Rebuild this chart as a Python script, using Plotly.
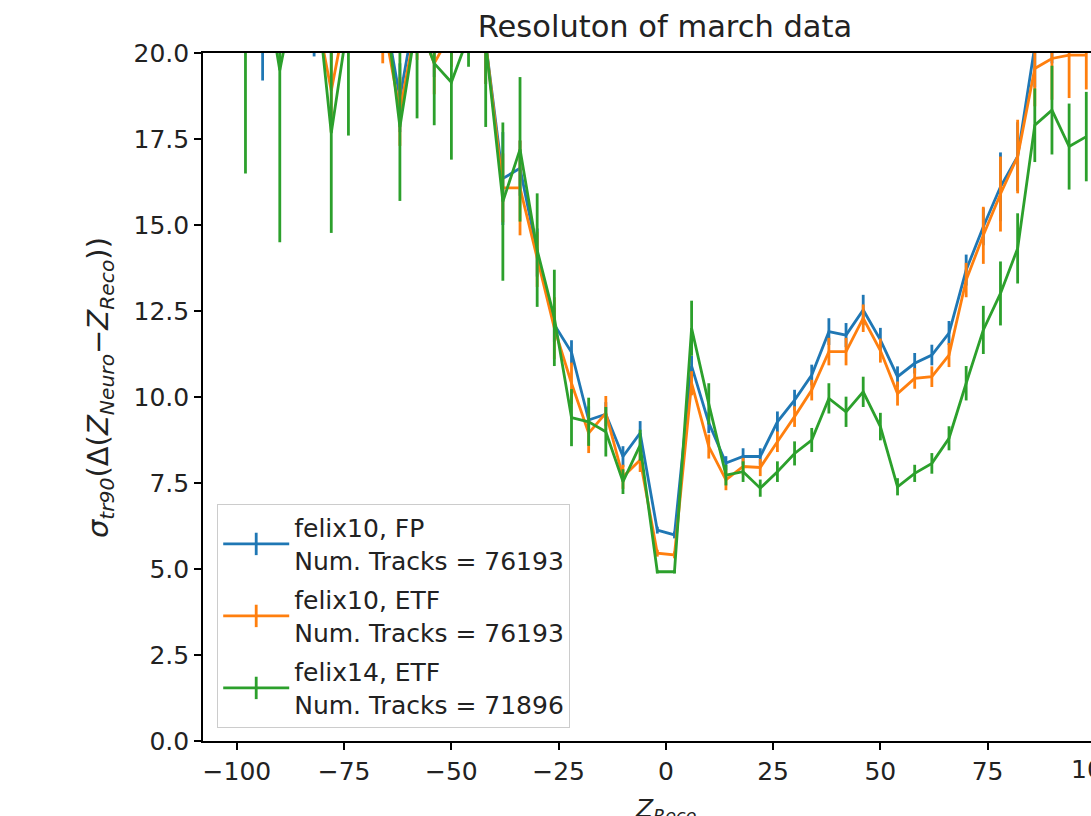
import plotly.graph_objects as go

# ---- data ----
z_reco = [-98, -94, -90, -86, -82, -78, -74, -70, -66, -62,
          -58, -54, -50, -46, -42, -38, -34, -30, -26, -22,
          -18, -14, -10, -6, -2, 2, 6, 10, 14, 18,
          22, 26, 30, 34, 38, 42, 46, 50, 54, 58,
          62, 66, 70, 74, 78, 82, 86, 90, 94, 98]

fp10_sigma = [22.0, 21.0, 22.5, 23.0, 21.2, 20.8, 22.0, 23.0, 21.5, 18.7,
              21.5, 20.3, 20.8, 21.0, 20.3, 16.35, 16.65, 14.2, 12.1, 11.3,
              9.33, 9.5, 8.27, 8.95, 6.13, 5.99, 10.9, 9.25, 8.08, 8.27,
              8.27, 9.28, 9.91, 10.64, 11.9, 11.8, 12.53, 11.66, 10.59, 10.98,
              11.22, 11.86, 13.69, 14.95, 16.11, 16.99, 20.2, 21.0, 21.5, 21.5]
fp10_err = [1.5, 1.8, 2.0, 1.5, 1.3, 1.0, 1.5, 1.5, 1.2, 1.0,
            1.2, 1.0, 1.0, 1.0, 1.2, 1.35, 0.8, 0.7, 0.5, 0.35,
            0.4, 0.35, 0.3, 0.35, 0.1, 0.1, 0.3, 0.3, 0.2, 0.24,
            0.24, 0.3, 0.3, 0.3, 0.39, 0.35, 0.44, 0.35, 0.3, 0.3,
            0.3, 0.35, 0.45, 0.54, 1.0, 1.0, 1.2, 1.3, 1.3, 1.3]

etf10_sigma = [22.0, 22.5, 22.0, 22.5, 21.5, 18.9, 21.5, 22.0, 21.0, 18.3,
               21.0, 19.7, 20.6, 21.0, 20.3, 16.08, 16.08, 14.0, 12.0, 10.4,
               8.95, 9.53, 7.68, 8.17, 5.46, 5.41, 10.4, 8.56, 7.59, 7.98,
               7.95, 8.7, 9.43, 10.2, 11.32, 11.32, 12.29, 11.35, 10.1, 10.54,
               10.59, 11.22, 13.4, 14.7, 15.9, 16.99, 19.55, 19.84, 19.94, 19.94]
etf10_err = [1.5, 2.0, 1.8, 1.5, 1.2, 1.2, 1.5, 1.5, 1.3, 1.0,
             1.2, 0.9, 1.0, 1.0, 1.2, 1.0, 1.38, 0.8, 0.9, 0.6,
             0.58, 0.5, 0.35, 0.35, 0.1, 0.1, 0.35, 0.35, 0.3, 0.25,
             0.25, 0.3, 0.3, 0.3, 0.4, 0.4, 0.4, 0.35, 0.35, 0.3,
             0.3, 0.35, 0.5, 0.83, 1.09, 1.07, 1.1, 1.2, 1.25, 1.0]

etf14_sigma = [21.0, 22.5, 19.5, 22.0, 22.5, 17.67, 21.0, 22.0, 22.0, 17.85,
               21.0, 19.7, 19.15, 20.5, 20.3, 15.68, 17.2, 14.27, 12.3, 9.4,
               9.28, 8.99, 7.54, 8.6, 4.92, 4.92, 12.0, 9.8, 7.73, 7.83,
               7.35, 7.83, 8.36, 8.75, 9.96, 9.57, 10.15, 9.14, 7.39, 7.78,
               8.07, 8.8, 10.4, 11.95, 13.01, 14.32, 17.9, 18.34, 17.28, 17.57]
etf14_err = [4.5, 2.0, 5.0, 2.0, 2.0, 2.9, 3.4, 2.0, 2.0, 2.15,
             2.9, 1.8, 2.25, 0.9, 2.45, 2.3, 2.1, 1.65, 1.4, 0.83,
             0.7, 0.72, 0.36, 0.45, 0.05, 0.05, 0.8, 0.6, 0.3, 0.3,
             0.25, 0.3, 0.35, 0.35, 0.44, 0.44, 0.44, 0.4, 0.25, 0.25,
             0.3, 0.35, 0.5, 0.7, 0.93, 1.02, 1.07, 1.29, 1.25, 1.3]

series_names = ["felix10, FP<br>Num. Tracks = 76193",
                "felix10, ETF<br>Num. Tracks = 76193",
                "felix14, ETF<br>Num. Tracks = 71896"]
series_colors = ["#1f77b4", "#ff7f0e", "#2ca02c"]

y_ticks = [0.0, 2.5, 5.0, 7.5, 10.0, 12.5, 15.0, 17.5, 20.0]
x_ticks = [-100, -75, -50, -25, 0, 25, 50, 75, 100]
x_range = [-107.9, 99.1]

FONT = "DejaVu Sans"
TXT = "#222222"
LW = 2.8

fig = go.Figure()
series = [(fp10_sigma, fp10_err), (etf10_sigma, etf10_err), (etf14_sigma, etf14_err)]
for (vals, errs), name, col in zip(series, series_names, series_colors):
    fig.add_trace(go.Scatter(
        x=z_reco, y=vals, mode="lines", showlegend=False,
        line=dict(color=col, width=LW),
        error_y=dict(type="data", array=errs, visible=True, width=0,
                     thickness=LW, color=col),
    ))
# legend entries (line with vertical bar, like matplotlib errorbar handles)
for i, (name, col) in enumerate(zip(series_names, series_colors)):
    fig.add_trace(go.Scatter(
        x=[None], y=[None], mode="lines+markers", name=name, legendgroup=f"g{i}",
        line=dict(color=col, width=LW),
        marker=dict(symbol="line-ns-open", size=16, color=col,
                    line=dict(color=col, width=LW)),
    ))

fig.update_layout(
    width=1091, height=816,
    margin=dict(l=203, r=0, t=53, b=75),
    paper_bgcolor="white", plot_bgcolor="white",
    font=dict(family=FONT, size=25, color=TXT),
    title=dict(text="Resoluton of march data", x=665 / 1091, xanchor="center",
               xref="container", yref="container", y=1 - 37 / 816, yanchor="bottom",
               font=dict(family=FONT, size=30.5, color=TXT)),
    xaxis=dict(range=x_range, tickvals=x_ticks, showgrid=False, zeroline=False,
               showline=True, linecolor="black", linewidth=1.6, mirror=True,
               ticks="outside", ticklen=7, tickwidth=1.6, tickcolor="black",
               tickfont=dict(family=FONT, size=25, color=TXT)),
    yaxis=dict(range=[0, 20], tickvals=y_ticks, tickformat=".1f", showgrid=False,
               zeroline=False, showline=True, linecolor="black", linewidth=1.6,
               ticks="outside", ticklen=7, tickwidth=1.6, tickcolor="black",
               tickfont=dict(family=FONT, size=25, color=TXT)),
    legend=dict(x=0.016, y=0.019, xanchor="left", yanchor="bottom",
                bgcolor="rgba(255,255,255,0.85)", bordercolor="#cccccc", borderwidth=1,
                font=dict(family=FONT, size=25, color=TXT),
                itemwidth=66, tracegroupgap=4),
)

# y-axis label (rotated)
fig.add_annotation(
    text="<i>σ</i><sub><i>tr90</i></sub>(Δ(<i>Z</i><sub><i>Neuro</i></sub>−<i>Z</i><sub><i>Reco</i></sub>))",
    xref="paper", yref="paper", x=(100 - 203) / 888, y=0.513, xanchor="center", yanchor="middle",
    textangle=-90, showarrow=False, font=dict(family=FONT, size=29, color=TXT))
# x-axis label (partly cut by the bottom edge, as in the reference)
fig.add_annotation(
    text="<i>Z</i><sub><i>Reco</i></sub>", xref="x", yref="paper", x=0, y=0,
    xanchor="center", yanchor="top", yshift=-51, showarrow=False,
    font=dict(family=FONT, size=25, color=TXT))
# '100' tick label, cut off by the right edge as in the reference
fig.add_annotation(
    text="100", xref="paper", yref="paper",
    x=(x_ticks[-1] - x_range[0]) / (x_range[1] - x_range[0]), y=0,
    xanchor="center", yanchor="top", yshift=-12, showarrow=False,
    font=dict(family=FONT, size=25, color=TXT))

fig.write_html("out.html")
